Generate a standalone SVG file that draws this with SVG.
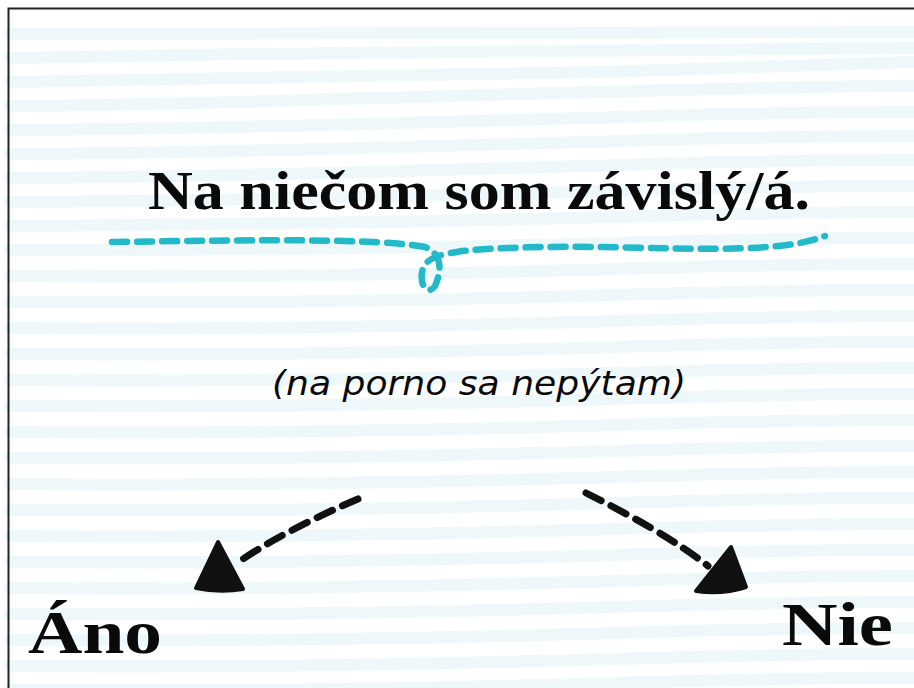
<svg xmlns="http://www.w3.org/2000/svg" width="914" height="688" viewBox="0 0 914 688">
<style>
.bg{fill:none;stroke:#eef8fb;stroke-width:12;stroke-linecap:round}
.title{font-family:"Liberation Serif",serif;font-weight:bold;fill:#0a0a0a}
.sub{font-family:"DejaVu Sans",sans-serif;font-style:italic;fill:#0a0a0a}
.teal{fill:none;stroke:#22b9c8;stroke-width:6.5;stroke-linecap:round;stroke-dasharray:15 10}
.blk{fill:none;stroke:#111;stroke-width:7;stroke-linecap:round;stroke-dasharray:17 11}
.head{fill:#111;stroke:#111;stroke-width:4;stroke-linejoin:round}
</style>
<rect x="0" y="0" width="914" height="688" fill="#fff"/>
<g id="background">
<path class="bg" d="M10 34 C 200 32, 500 34, 914 32"/>
<path class="bg" d="M10 58 C 150 56, 220 55, 250 54 C 500 50, 700 50, 914 48"/>
<path class="bg" d="M10 82 C 200 80, 400 76, 600 72 C 750 68, 850 64, 914 62"/>
<path class="bg" d="M10 106 C 250 104, 400 96, 600 92 C 750 88, 850 86, 914 86"/>
<path class="bg" d="M10 130 C 250 128, 450 122, 650 116 C 800 112, 870 112, 914 112"/>
<path class="bg" d="M10 154 C 250 152, 450 146, 650 140 C 800 136, 870 136, 914 136"/>
<path class="bg" d="M10 178 C 250 176, 450 170, 650 164 C 800 160, 870 160, 914 160"/>
<path class="bg" d="M10 202 C 250 200, 450 196, 650 190 C 800 186, 870 186, 914 186"/>
<path class="bg" d="M10 226 C 250 224, 450 222, 650 216 C 800 212, 870 212, 914 212"/>
<path class="bg" d="M10 250 C 250 250, 450 248, 650 242 C 800 238, 870 238, 914 238"/>
<path class="bg" d="M10 276 C 250 278, 450 274, 650 268 C 800 264, 870 264, 914 264"/>
<path class="bg" d="M10 302 C 250 304, 450 300, 650 294 C 800 290, 870 290, 914 290"/>
<path class="bg" d="M10 328 C 250 330, 450 326, 650 320 C 800 316, 870 316, 914 316"/>
<path class="bg" d="M10 354 C 250 356, 450 352, 650 346 C 800 342, 870 342, 914 342"/>
<path class="bg" d="M10 380 C 250 382, 450 378, 650 372 C 800 368, 870 368, 914 368"/>
<path class="bg" d="M10 406 C 250 408, 450 404, 650 398 C 800 394, 870 394, 914 394"/>
<path class="bg" d="M10 432 C 250 434, 450 430, 650 424 C 800 420, 870 420, 914 420"/>
<path class="bg" d="M10 458 C 250 460, 450 456, 650 450 C 800 446, 870 446, 914 446"/>
<path class="bg" d="M10 484 C 250 486, 450 482, 650 476 C 800 472, 870 472, 914 472"/>
<path class="bg" d="M10 510 C 250 512, 450 508, 650 502 C 800 498, 870 498, 914 498"/>
<path class="bg" d="M10 536 C 250 538, 450 534, 650 528 C 800 524, 870 524, 914 524"/>
<path class="bg" d="M10 562 C 250 564, 450 560, 650 554 C 800 550, 870 550, 914 550"/>
<path class="bg" d="M10 588 C 250 590, 450 586, 650 580 C 800 576, 870 576, 914 576"/>
<path class="bg" d="M10 614 C 250 616, 450 612, 650 606 C 800 602, 870 602, 914 602"/>
<path class="bg" d="M10 640 C 250 642, 450 638, 650 632 C 800 628, 870 628, 914 628"/>
<path class="bg" d="M10 666 C 250 668, 450 664, 650 658 C 800 654, 870 654, 914 654"/>
<path class="bg" d="M10 690 C 250 692, 450 688, 650 682 C 800 678, 870 678, 914 678"/>
</g>
<path d="M8.5 688 V8.5 H914" fill="none" stroke="#222" stroke-width="2"/>
<g id="title">
<text class="title" x="148" y="209" font-size="54" textLength="662" lengthAdjust="spacingAndGlyphs">Na niečom som závislý/á.</text>
<path class="teal" d="M112 242 C 250 240, 380 238, 425 247 C 445 255, 440 275, 435 286 C 428 296, 418 286, 423 268 C 428 256, 445 254, 462 251 C 600 238, 760 262, 825 236"/>
</g>
<g id="subtitle">
<text class="sub" x="272" y="395" font-size="33" textLength="414" lengthAdjust="spacingAndGlyphs">(na porno sa nepýtam)</text>
</g>
<g id="connectors">
<path class="blk" d="M358 499 C 320 515, 270 540, 237 563"/>
<path class="blk" d="M586 493 C 630 515, 675 540, 708 566"/>
<path class="head" d="M218 542 L196 588 Q220 593 243 589 Z"/>
<path class="head" d="M731 547 L696 591 Q722 595 746 587 Z"/>
</g>
<g id="ano">
<text class="title" x="28" y="653" font-size="62" textLength="134" lengthAdjust="spacingAndGlyphs">Áno</text>
</g>
<g id="nie">
<text class="title" x="782" y="645" font-size="62" textLength="111" lengthAdjust="spacingAndGlyphs">Nie</text>
</g>
</svg>
